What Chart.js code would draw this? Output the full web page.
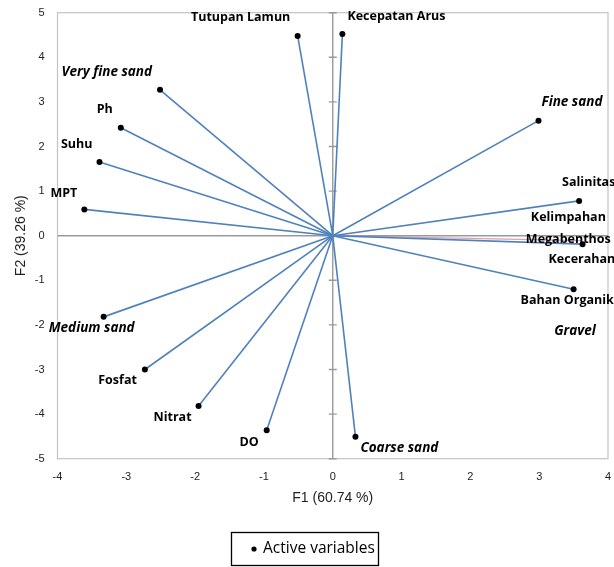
<!DOCTYPE html>
<html>
<head>
<meta charset="utf-8">
<script src="https://cdn.jsdelivr.net/npm/chart.js@4.4.1/dist/chart.umd.min.js"></script>
<style>
  html, body { margin: 0; padding: 0; background: #ffffff; }
  #wrap { width: 614px; height: 567px; }
</style>
</head>
<body>
<div id="wrap"><canvas id="c" width="614" height="567"></canvas></div>
<script>
// Correlation circle: active variables on F1 / F2
const variables = [
  'Tutupan Lamun', 'Kecepatan Arus', 'Very fine sand', 'Ph', 'Suhu', 'MPT',
  'Fine sand', 'Salinitas', 'Kelimpahan\nMegabenthos', 'Kecerahan', 'Bahan Organik',
  'Coarse sand', 'Medium sand', 'Fosfat', 'Nitrat', 'DO'
];
const f1Values = [-0.51, 0.14, -2.51, -3.08, -3.39, -3.61, 2.99, 3.58, 3.62, 3.63, 3.50, 0.33, -3.33, -2.73, -1.95, -0.96];
const f2Values = [4.48, 4.52, 3.27, 2.42, 1.65, 0.59, 2.58, 0.78, -0.11, -0.19, -1.20, -4.51, -1.82, -3.00, -3.82, -4.36];
const italicNames = ['Very fine sand', 'Fine sand', 'Coarse sand', 'Medium sand', 'Gravel'];

// free-standing label with no vector of its own
const extraLabels = [{ text: 'Gravel', x: 3.52, y: -2.14 }];

const xTicks = [-4, -3, -2, -1, 0, 1, 2, 3, 4];
const yTicks = [-5, -4, -3, -2, -1, 0, 1, 2, 3, 4, 5];

// label placement relative to each vector's end point: [dx, dy, align]
const labelPlacement = {
  'Tutupan Lamun': [-57, -18, 'center'],
  'Kecepatan Arus': [5, -18, 'left'],
  'Very fine sand': [-8, -18, 'right'],
  'Ph': [-8, -18, 'right'],
  'Suhu': [-7, -18, 'right'],
  'MPT': [-7, -16, 'right'],
  'Fine sand': [3, -18, 'left'],
  'Salinitas': [-17, -18, 'left'],
  'Kelimpahan\nMegabenthos': [-51, -23, 'left'],
  'Kecerahan': [-34, 15, 'left'],
  'Bahan Organik': [-53, 11, 'left'],
  'Coarse sand': [5, 11, 'left'],
  'Medium sand': [31, 11, 'right'],
  'Fosfat': [-8, 11, 'right'],
  'Nitrat': [-7, 11, 'right'],
  'DO': [-8, 12, 'right']
};

const BLUE = 'rgb(79,129,189)';
const SOFT_RED = 'rgba(205,130,150,0.75)';

const datasets = variables.map((name, i) => {
  const faint = name.startsWith('Kelimpahan');
  return {
    label: name,
    data: [{ x: 0, y: 0 }, { x: f1Values[i], y: f2Values[i] }],
    showLine: true,
    borderColor: faint ? SOFT_RED : BLUE,
    borderWidth: faint ? 1.2 : 1.6,
    pointRadius: faint ? [0, 0] : [0, 3],
    pointBackgroundColor: '#000',
    pointBorderColor: '#000',
    pointBorderWidth: 0,
    order: faint ? 1 : 0
  };
});

const LABEL_FONT = 'bold 12.5px "Open Sans", "DejaVu Sans", sans-serif';
const LABEL_FONT_IT = 'italic bold 13.5px "Open Sans", "DejaVu Sans", sans-serif';
const AXIS_FONT = '"Liberation Sans", Arial, sans-serif';

const decorations = {
  id: 'decorations',
  beforeDatasetsDraw(chart) {
    const { ctx, chartArea: a, scales } = chart;
    const x0 = scales.x.getPixelForValue(0);
    const y0 = scales.y.getPixelForValue(0);
    ctx.save();
    // plot frame
    ctx.strokeStyle = '#c4c4c4';
    ctx.lineWidth = 1.2;
    ctx.strokeRect(a.left, a.top, a.right - a.left, a.bottom - a.top);
    // axes through the origin; the vertical one carries tick marks
    ctx.strokeStyle = '#9a9a9a';
    ctx.lineWidth = 1.4;
    ctx.beginPath();
    ctx.moveTo(a.left, y0); ctx.lineTo(a.right, y0);
    ctx.moveTo(x0, a.top); ctx.lineTo(x0, a.bottom);
    yTicks.forEach(v => {
      const py = scales.y.getPixelForValue(v);
      ctx.moveTo(x0 - 4, py); ctx.lineTo(x0 + 4, py);
    });
    ctx.stroke();
    ctx.restore();
  },
  afterDatasetsDraw(chart) {
    const { ctx, scales } = chart;
    ctx.save();
    ctx.fillStyle = '#000';
    ctx.textBaseline = 'middle';
    variables.forEach((name, i) => {
      const px = scales.x.getPixelForValue(f1Values[i]);
      const py = scales.y.getPixelForValue(f2Values[i]);
      const [dx, dy, align] = labelPlacement[name];
      ctx.font = italicNames.includes(name) ? LABEL_FONT_IT : LABEL_FONT;
      ctx.textAlign = align;
      name.split('\n').forEach((line, k) => {
        ctx.fillText(line, px + dx - (k ? 5 : 0), py + dy + k * 22);
      });
    });
    extraLabels.forEach(l => {
      ctx.font = italicNames.includes(l.text) ? LABEL_FONT_IT : LABEL_FONT;
      ctx.textAlign = 'center';
      ctx.fillText(l.text, scales.x.getPixelForValue(l.x), scales.y.getPixelForValue(l.y));
    });
    ctx.restore();
  },
  afterDraw(chart) {
    // legend box
    const { ctx } = chart;
    const bx = 231, by = 532, bw = 147, bh = 33;
    ctx.save();
    ctx.strokeStyle = '#000';
    ctx.lineWidth = 1.3;
    ctx.strokeRect(bx + 0.5, by + 0.5, bw, bh);
    ctx.fillStyle = '#000';
    ctx.beginPath();
    ctx.arc(bx + 23, by + 17, 2.6, 0, Math.PI * 2);
    ctx.fill();
    ctx.font = '15.5px "Open Sans", "Liberation Sans", sans-serif';
    ctx.textAlign = 'left';
    ctx.textBaseline = 'middle';
    ctx.fillText('Active variables', bx + 32, by + 17);
    ctx.restore();
  }
};

new Chart(document.getElementById('c'), {
  type: 'scatter',
  data: { datasets },
  options: {
    responsive: false,
    animation: false,
    layout: { padding: { left: 0, right: 6, top: 12.7, bottom: 60.6 } },
    plugins: {
      legend: { display: false },
      tooltip: { enabled: false }
    },
    scales: {
      x: {
        type: 'linear',
        min: -4, max: 4,
        afterBuildTicks: s => { s.ticks = xTicks.map(v => ({ value: v })); },
        afterFit: s => { s.height = 47.7; s.paddingLeft = 0; s.paddingRight = 0; },
        ticks: { color: '#222', font: { family: AXIS_FONT, size: 11 }, padding: 12 },
        grid: { display: false, drawTicks: false },
        border: { display: false },
        title: { display: true, text: 'F1 (60.74 %)', color: '#222', font: { family: AXIS_FONT, size: 14 }, padding: { top: 0, bottom: 0 } }
      },
      y: {
        type: 'linear',
        min: -5, max: 5,
        afterBuildTicks: s => { s.ticks = yTicks.map(v => ({ value: v })); },
        afterFit: s => { s.width = 57.5; s.paddingTop = 0; s.paddingBottom = 0; },
        ticks: { color: '#222', font: { family: AXIS_FONT, size: 11 }, padding: 13 },
        grid: { display: false, drawTicks: false },
        border: { display: false },
        title: { display: true, text: 'F2 (39.26 %)', color: '#222', font: { family: AXIS_FONT, size: 14 }, padding: { top: 12.6, bottom: 0 } }
      }
    }
  },
  plugins: [decorations]
});
</script>
</body>
</html>
